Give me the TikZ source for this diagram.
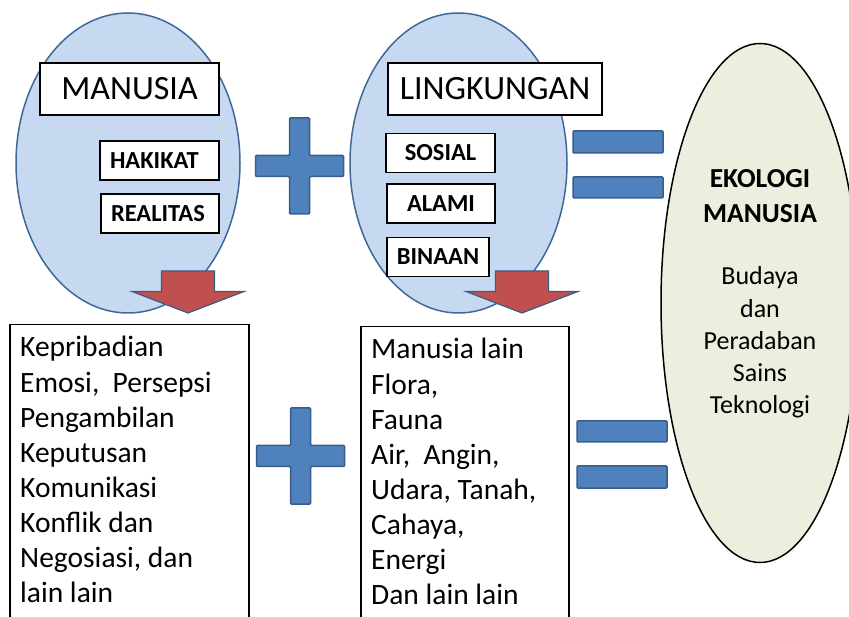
\documentclass[tikz,border=0pt]{standalone}
\usepackage{fontspec}
\setmainfont{Carlito}
\usetikzlibrary{shapes.geometric}

\definecolor{ovalblue}{HTML}{C6D9F1}
\definecolor{ovaledge}{HTML}{3F6899}
\definecolor{shapeblue}{HTML}{4F81BD}
\definecolor{shapeedge}{HTML}{385D8A}
\definecolor{arrowred}{HTML}{C0504D}
\definecolor{ovalgreen}{HTML}{EBEFDD}

\begin{document}
\begin{tikzpicture}[x=1pt,y=-1pt,
  oval/.style={ellipse, draw=ovaledge, fill=ovalblue, line width=1.5pt, inner sep=0pt},
  titlebox/.style={draw=black, fill=white, line width=1.5pt, inner sep=0pt,
    font=\fontsize{34}{40}\selectfont, minimum height=52pt},
  tagbox/.style={draw=black, fill=white, line width=1.5pt, inner sep=0pt,
    font=\bfseries\fontsize{24.5}{28}\selectfont, minimum height=39pt},
  listbox/.style={draw=black, fill=white, line width=1.5pt, inner sep=0pt, anchor=north west},
  listtext/.style={anchor=base west, inner sep=0pt, font=\fontsize{29.5}{35}\selectfont},
  resulttext/.style={anchor=base, inner sep=0pt, font=\fontsize{26}{32}\selectfont},
  resulttitle/.style={anchor=base, inner sep=0pt, font=\bfseries\fontsize{27.5}{35}\selectfont},
  signbar/.style={fill=shapeblue, draw=shapeedge, line width=1.5pt, rounded corners=1pt},
  downarrow/.style={fill=arrowred, draw=shapeedge, line width=1.2pt, line join=miter},
]
\useasboundingbox (0,0) rectangle (849,617);
\clip (0,0) rectangle (849,617);

% --- upper row: the two ovals -------------------------------------------
\node[oval, minimum width=224pt, minimum height=300pt] (manusiaOval) at (128,163) {};
\node[oval, minimum width=217pt, minimum height=300pt] (lingkunganOval) at (458.5,163) {};

% --- result oval on the right --------------------------------------------
\node[ellipse, draw=black, fill=ovalgreen, line width=1.5pt, inner sep=0pt,
      minimum width=198pt, minimum height=519pt] (ekologi) at (760,303) {};
\node[resulttitle] (ekoA) at (760,188) {EKOLOGI};
\node[resulttitle] (ekoB) at (760,223) {MANUSIA};
\foreach \t [count=\i] in {Budaya, dan, Peradaban, Sains, Teknologi}
  \node[resulttext] (eko\i) at (760,{285+32.2*(\i-1)}) {\t};

% --- titles and tags inside the ovals --------------------------------------
\node[titlebox, minimum width=179pt] (manusia) at (129.5,89) {MANUSIA};
\node[titlebox, minimum width=214pt] (lingkungan) at (495,89) {LINGKUNGAN};

\node[tagbox, inner xsep=10pt, text width=99pt, align=left] (hakikat) at (159.5,160.5) {HAKIKAT};
\node[tagbox, inner xsep=10pt, text width=98pt, align=left] (realitas) at (160,213.5) {REALITAS};

\node[tagbox, minimum width=109pt] (sosial) at (440.5,153) {SOSIAL};
\node[tagbox, minimum width=108pt] (alami) at (441,203.5) {ALAMI};
\node[tagbox, minimum width=102pt] (binaan) at (438,257) {BINAAN};

% --- red arrows pointing down to the lists ---------------------------------
\foreach \tx in {188,522}
  \draw[downarrow, shift={(\tx,313)}]
    (-26.5,-42) -- (26.5,-42) -- (26.5,-21.5) -- (56,-21.5) -- (0,0)
    -- (-56,-21.5) -- (-26.5,-21.5) -- cycle;

% --- plus signs ------------------------------------------------------------
\foreach \cx/\cy in {299.5/166, 300.5/456}
  \draw[signbar, shift={(\cx,\cy)}]
    (-10,-48) -- (10,-48) -- (10,-10.5) -- (44,-10.5) -- (44,10.5) -- (10,10.5)
    -- (10,48) -- (-10,48) -- (-10,10.5) -- (-44,10.5) -- (-44,-10.5) -- (-10,-10.5) -- cycle;

% --- equals signs ----------------------------------------------------------
\draw[signbar] (573,131) rectangle (663,153);
\draw[signbar] (573,177) rectangle (663,198);
\draw[signbar] (577,421) rectangle (667,442);
\draw[signbar] (577,466) rectangle (667,488);

% --- lower row: the two lists ----------------------------------------------
\node[listbox, minimum width=239pt, minimum height=330pt] (humanList) at (9,324) {};
\node[listbox, minimum width=208pt, minimum height=330pt] (envList) at (360,326) {};

\foreach \t [count=\i] in {Kepribadian, {Emosi,\ \ Persepsi}, Pengambilan, Keputusan,
    Komunikasi, Konflik dan, {Negosiasi, dan}, lain lain}
  \node[listtext] (hum\i) at (20,{357+35.1*(\i-1)}) {\t};

\foreach \t [count=\i] in {Manusia lain, {Flora,}, Fauna, {Air,\ \ Angin,},
    {Udara, Tanah,}, {Cahaya,}, Energi, Dan lain lain}
  \node[listtext] (env\i) at (371,{359+35.1*(\i-1)}) {\t};
\end{tikzpicture}
\end{document}
